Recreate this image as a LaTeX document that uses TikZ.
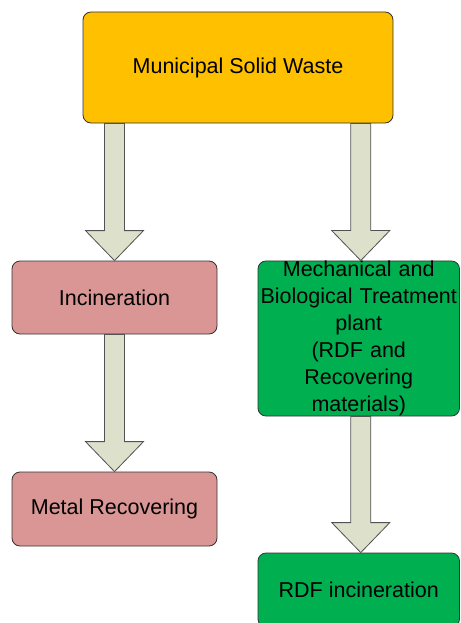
\documentclass[tikz,border=0pt]{standalone}
\usepackage{fontspec}
\setmainfont{Liberation Sans}
\usetikzlibrary{calc}
\definecolor{goldfill}{HTML}{FFC000}
\definecolor{pinkfill}{HTML}{D99694}
\definecolor{greenfill}{HTML}{00B050}
\definecolor{arrowfill}{HTML}{DDE0CB}
\definecolor{edgecol}{HTML}{333333}
\tikzset{
  box/.style={draw=edgecol, line width=0.8pt, rounded corners=8pt, inner sep=0pt,
    align=center, font=\fontsize{21.5}{27}\selectfont},
  barrow/.style={draw=edgecol!85!white, fill=arrowfill, line width=0.8pt, line join=miter},
}
\newcommand\blockarr[3][0]{%
  \path[barrow] let \p1=($(#2.south -| #3.north)+(#1,0)$), \p2=($(#3.north)+(#1,0)$) in
   (\x1-10pt,\y1) -- (\x1-10pt,\y2+30pt) -- (\x1-29pt,\y2+30pt) -- (\x1,\y2)
   -- (\x1+29pt,\y2+30pt) -- (\x1+10pt,\y2+30pt) -- (\x1+10pt,\y1) -- cycle;}
\begin{document}
\begin{tikzpicture}[x=1pt,y=-1pt]
\useasboundingbox (0,0) rectangle (460,623);
\node[box, fill=goldfill, minimum width=310pt, minimum height=111pt] (msw) at (238,67.5) {Municipal Solid Waste};
\node[box, fill=pinkfill, minimum width=205pt, minimum height=73pt] (inc) at (114.5,297.5) {Incineration};
\node[box, fill=pinkfill, minimum width=205pt, minimum height=74pt] (metal) at (114.5,509) {Metal Recovering};
\node[box, fill=greenfill, minimum width=201.5pt, minimum height=155pt, text width=200pt] (mbt) at (358.75,338.5)
  {Mechanical and\\Biological Treatment\\plant\\(RDF and\\Recovering\\materials)};
\node[box, fill=greenfill, minimum width=201.5pt, minimum height=74pt] (rdf) at (358.75,590) {RDF incineration};
\blockarr{msw}{inc}
\blockarr[2]{msw}{mbt}
\blockarr{inc}{metal}
\blockarr[2]{mbt}{rdf}
\end{tikzpicture}
\end{document}
